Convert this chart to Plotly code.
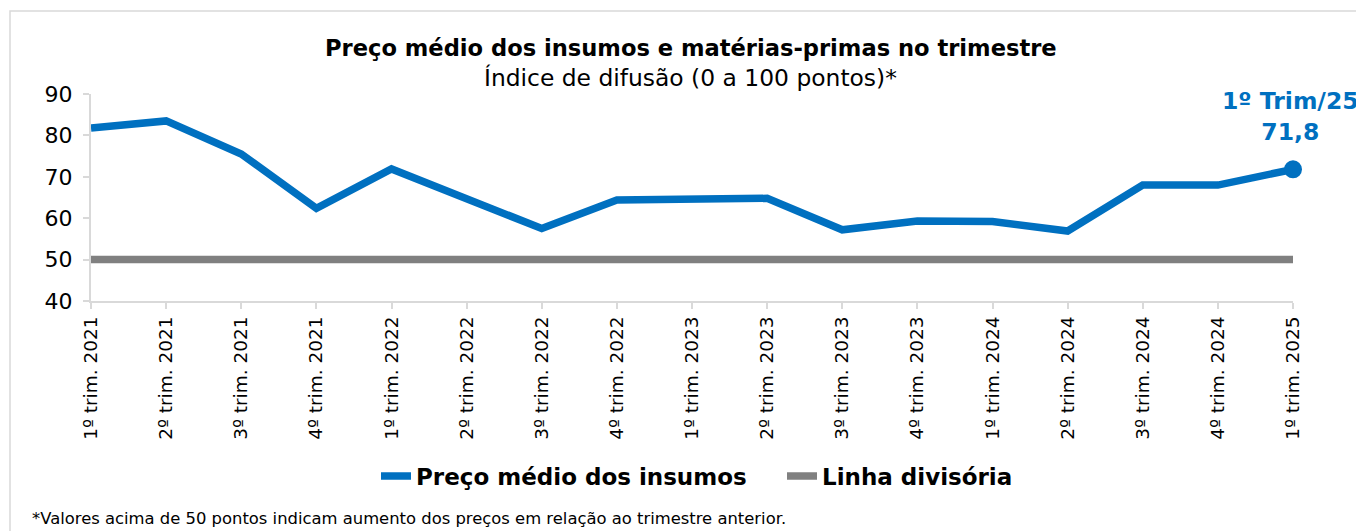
import plotly.graph_objects as go

categories = ["1º trim. 2021", "2º trim. 2021", "3º trim. 2021", "4º trim. 2021",
              "1º trim. 2022", "2º trim. 2022", "3º trim. 2022", "4º trim. 2022",
              "1º trim. 2023", "2º trim. 2023", "3º trim. 2023", "4º trim. 2023",
              "1º trim. 2024", "2º trim. 2024", "3º trim. 2024", "4º trim. 2024",
              "1º trim. 2025"]
preco_medio = [81.8, 83.5, 75.5, 62.4, 71.9, 64.6, 57.5, 64.4, 64.4, 64.8,
               57.2, 59.3, 59.2, 56.9, 68.0, 68.0, 71.8]
linha_divisoria = [50] * len(categories)
y_ticks = [40, 50, 60, 70, 80, 90]

BLUE = "#0070C0"
GRAY = "#808080"
AXIS = "#D9D9D9"
FONT = "DejaVu Sans, Arial, sans-serif"

OFF = 8  # page body margin
W, H = 1364 - OFF, 531 - OFF
L, T = 91 - OFF, 94 - OFF
R = W - (1293 - OFF)
B = H - (301 - OFF)
pw, ph = W - L - R, H - T - B

def px_x(p):
    return (p - OFF - L) / pw

def px_y(p):
    return (H - B - (p - OFF)) / ph

fig = go.Figure()
fig.add_trace(go.Scatter(
    x=categories, y=preco_medio, mode="lines", name="Preço médio dos insumos",
    line=dict(color=BLUE, width=7.5), hoverinfo="x+y", cliponaxis=False))
fig.add_trace(go.Scatter(
    x=categories, y=linha_divisoria, mode="lines", name="Linha divisória",
    line=dict(color=GRAY, width=7.5), hoverinfo="x+y", cliponaxis=False))
fig.add_trace(go.Scatter(
    x=[categories[-1]], y=[preco_medio[-1]], mode="markers", showlegend=False,
    marker=dict(color=BLUE, size=18), hoverinfo="x+y", cliponaxis=False))

fig.add_annotation(
    x=categories[-1], y=preco_medio[-1], xref="x", yref="y",
    text="<b>1º Trim/25<br>71,8</b>", showarrow=False,
    yanchor="bottom", xanchor="center", yshift=21, xshift=-3,
    font=dict(family=FONT, size=23.5, color=BLUE), align="center")

fig.add_annotation(
    x=px_x(691), y=px_y(48), xref="paper", yref="paper",
    text="<b>Preço médio dos insumos e matérias-primas no trimestre</b>",
    showarrow=False, xanchor="center", yanchor="middle",
    font=dict(family=FONT, size=22.6, color="black"))
fig.add_annotation(
    x=px_x(690), y=px_y(78), xref="paper", yref="paper",
    text="Índice de difusão (0 a 100 pontos)*",
    showarrow=False, xanchor="center", yanchor="middle",
    font=dict(family=FONT, size=23.4, color="black"))
fig.add_annotation(
    x=px_x(30), y=px_y(518), xref="paper", yref="paper",
    text="*Valores acima de 50 pontos indicam aumento dos preços em relação ao trimestre anterior.",
    showarrow=False, xanchor="left", yanchor="middle",
    font=dict(family=FONT, size=16.4, color="black"))

# outer frame
fig.add_shape(type="rect", xref="paper", yref="paper",
              x0=px_x(10), x1=px_x(1380), y0=px_y(11), y1=px_y(545),
              line=dict(color=AXIS, width=1.5), fillcolor="rgba(0,0,0,0)", layer="below")

fig.update_layout(
    width=W, height=H,
    margin=dict(l=L, r=R, t=T, b=B, autoexpand=False),
    paper_bgcolor="white", plot_bgcolor="white",
    font=dict(family=FONT, color="black"),
    showlegend=True,
    legend=dict(orientation="h", x=px_x(376), xanchor="left",
                y=px_y(476), yanchor="middle",
                font=dict(family=FONT, size=23, color="black", weight="bold"),
                entrywidth=361, entrywidthmode="pixels",
                tracegroupgap=0, bgcolor="rgba(0,0,0,0)"),
    xaxis=dict(type="category", range=[0, len(categories) - 1],
               showgrid=False, showline=True, linecolor=AXIS, linewidth=2,
               ticks="outside", ticklen=6, tickcolor=AXIS, tickwidth=2,
               tickangle=-90, tickfont=dict(family=FONT, size=18.5, color="black"),
               zeroline=False),
    yaxis=dict(range=[40, 90], tickvals=y_ticks, showgrid=False,
               showline=True, linecolor=AXIS, linewidth=2,
               ticks="outside", ticklen=6, tickcolor=AXIS, tickwidth=2,
               ticklabelstandoff=6,
               tickfont=dict(family=FONT, size=22, color="black"),
               zeroline=False),
)

fig.write_html("out.html")
